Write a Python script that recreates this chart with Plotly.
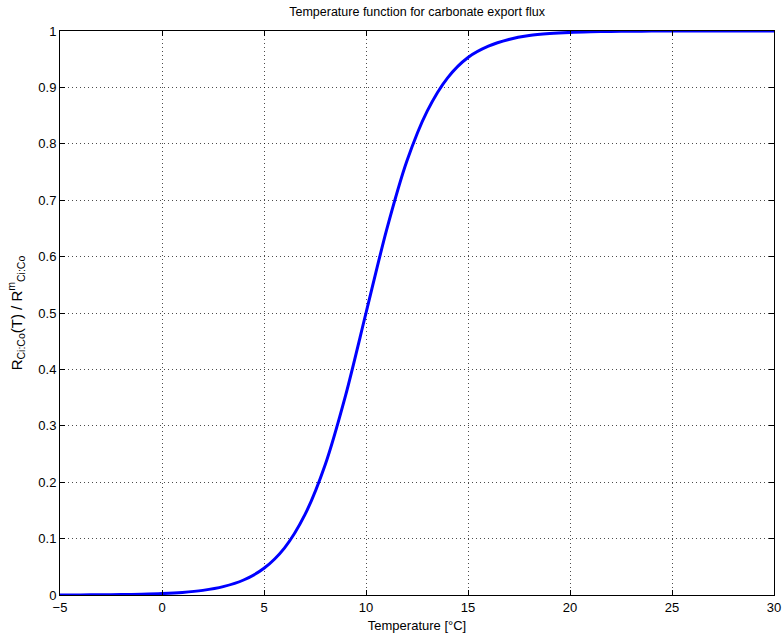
import plotly.graph_objects as go

temperature = [-5, -4, -3, -2, -1, 0, 1, 2, 3, 4, 5, 6, 7, 8, 9, 10, 11, 12, 13, 14, 15,
               16, 17, 18, 19, 20, 21, 22, 23, 24, 25, 26, 27, 28, 29, 30]
ratio = [0.0001, 0.0002, 0.0004, 0.0007, 0.0014, 0.0025, 0.0045, 0.0082, 0.0148, 0.0266,
         0.0474, 0.0832, 0.142, 0.231, 0.354, 0.5, 0.646, 0.769, 0.858, 0.917, 0.953,
         0.973, 0.985, 0.992, 0.9955, 0.9975, 0.9986, 0.9993, 0.9996, 0.9998, 0.9999,
         1.0, 1.0, 1.0, 1.0, 1.0]
x_ticks = [-5, 0, 5, 10, 15, 20, 25, 30]
x_tick_labels = ["\u22125", "0", "5", "10", "15", "20", "25", "30"]
y_ticks = [0, 0.1, 0.2, 0.3, 0.4, 0.5, 0.6, 0.7, 0.8, 0.9, 1]
y_tick_labels = ["0", "0.1", "0.2", "0.3", "0.4", "0.5", "0.6", "0.7", "0.8", "0.9", "1"]

font = "Liberation Sans, Arial, Helvetica, sans-serif"

fig = go.Figure()
fig.add_trace(go.Scatter(
    x=temperature, y=ratio, mode="lines",
    line=dict(color="#0000ff", width=3, shape="spline", smoothing=0.8),
    showlegend=False, hoverinfo="skip",
))

axis_common = dict(
    showline=True, linecolor="black", linewidth=1, mirror="ticks",
    ticks="inside", ticklen=5, tickcolor="black",
    showgrid=True, gridcolor="rgba(0,0,0,0.7)", griddash="1px,3px", gridwidth=1,
    zeroline=False, tickfont=dict(family=font, size=13, color="black"),
)

fig.update_xaxes(
    range=[-5, 30], tickvals=x_ticks, ticktext=x_tick_labels,
    title=dict(text="Temperature [\u00b0C]", font=dict(family=font, size=13, color="black"), standoff=7),
    **axis_common,
)
fig.update_yaxes(
    range=[0, 1], tickvals=y_ticks, ticktext=y_tick_labels,
    title=dict(text="R<sub>Ci:Co</sub>(T) / R<sup>m</sup><sub>Ci:Co</sub>",
               font=dict(family=font, size=15, color="black"), standoff=12),
    **axis_common,
)

fig.update_layout(
    width=784, height=641,
    margin=dict(l=60, r=10, t=31, b=46, autoexpand=False),
    paper_bgcolor="white", plot_bgcolor="white",
    title=dict(text="Temperature function for carbonate export flux",
               font=dict(family=font, size=12.5, color="black"),
               x=0.532, xanchor="center", y=0.988, yanchor="top"),
)

fig.write_html("out.html", config={"displayModeBar": False},
               post_script="document.body.style.margin='0';")
